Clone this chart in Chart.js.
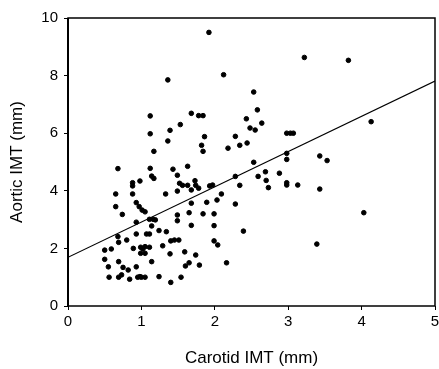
<!DOCTYPE html>
<html>
<head>
<meta charset="utf-8">
<script src="https://cdn.jsdelivr.net/npm/chart.js@4.4.1/dist/chart.umd.min.js"></script>
<style>
  html, body { margin: 0; padding: 0; background: #fff; }
  #box { width: 439px; height: 369px; }
</style>
</head>
<body>
<div id="box"><canvas id="imtChart"></canvas></div>
<script>
// 데이터
const carotid = [
  1.92, 3.22, 3.82, 2.12, 1.36, 2.53, 2.58, 1.68, 1.12, 1.78, 1.84, 2.43, 4.13, 2.64, 1.53, 2.48, 2.55, 1.39,
  2.98, 3.03, 3.07, 1.12, 1.86, 2.28, 1.36, 1.82, 2.34, 2.44, 2.18, 1.17, 1.84, 2.98, 3.43, 2.98, 3.53, 2.53,
  1.63, 0.68, 1.12, 1.43, 2.69, 2.88, 1.49, 1.14, 1.17, 2.28, 2.59, 2.70, 0.98, 1.73, 0.88, 1.52, 2.98, 0.88,
  1.56, 1.63, 1.74, 1.93, 1.97, 2.34, 2.98, 3.13, 2.73, 1.78, 3.43, 1.68, 1.49, 0.65, 0.88, 1.33, 2.09, 2.03,
  1.89, 0.93, 1.68, 2.28, 0.65, 0.97, 1.01, 1.05, 1.65, 4.03, 1.84, 1.99, 0.74, 1.49, 1.11, 1.16, 1.19, 1.49,
  0.93, 1.68, 1.99, 1.14, 1.24, 1.34, 2.39, 0.93, 1.07, 1.11, 0.68, 0.80, 1.45, 1.51, 1.40, 1.99, 0.69, 2.04,
  3.39, 1.29, 0.99, 1.05, 1.11, 0.89, 1.02, 0.59, 0.50, 1.59, 0.99, 1.05, 1.39, 1.74, 0.50, 0.69, 1.14, 1.65,
  2.16, 1.79, 1.60, 0.55, 0.75, 0.93, 0.82, 0.56, 0.69, 0.73, 0.84, 0.95, 0.98, 1.00, 1.05, 1.24, 1.54, 1.40
];
const aortic = [
  9.50, 8.63, 8.53, 8.03, 7.85, 7.43, 6.81, 6.69, 6.60, 6.61, 6.61, 6.50, 6.40, 6.35, 6.30, 6.18, 6.11, 6.10,
  6.00, 6.00, 6.00, 5.98, 5.88, 5.89, 5.73, 5.58, 5.58, 5.66, 5.48, 5.37, 5.37, 5.30, 5.21, 5.09, 5.05, 4.99,
  4.85, 4.77, 4.78, 4.75, 4.66, 4.61, 4.54, 4.51, 4.43, 4.50, 4.50, 4.36, 4.34, 4.35, 4.28, 4.26, 4.28, 4.17,
  4.19, 4.19, 4.19, 4.17, 4.20, 4.19, 4.20, 4.20, 4.11, 4.09, 4.06, 4.03, 3.99, 3.89, 3.89, 3.89, 3.89, 3.68,
  3.60, 3.59, 3.57, 3.54, 3.45, 3.45, 3.33, 3.27, 3.24, 3.24, 3.20, 3.20, 3.18, 3.16, 3.01, 3.01, 2.99, 2.96,
  2.91, 2.80, 2.79, 2.78, 2.62, 2.58, 2.60, 2.50, 2.50, 2.50, 2.41, 2.29, 2.29, 2.29, 2.26, 2.26, 2.21, 2.12,
  2.15, 2.09, 2.04, 2.06, 2.04, 2.00, 1.98, 1.98, 1.94, 1.88, 1.83, 1.83, 1.81, 1.77, 1.62, 1.54, 1.54, 1.50,
  1.50, 1.42, 1.39, 1.36, 1.34, 1.36, 1.25, 1.00, 1.00, 1.08, 0.93, 1.00, 1.02, 1.00, 1.00, 1.02, 1.00, 0.82
];
// 회귀선 양 끝
const fitX = [0, 5];
const fitY = [1.69, 7.81];

const xTicks = [0, 1, 2, 3, 4, 5];
const yTicks = [0, 2, 4, 6, 8, 10];

const points = carotid.map((x, i) => ({ x: x, y: aortic[i] }));
const fitLine = fitX.map((x, i) => ({ x: x, y: fitY[i] }));

const fontFam = '"Liberation Sans", Arial, sans-serif';

// 테두리 박스
const frame = {
  id: 'frame',
  afterDraw(chart) {
    const a = chart.chartArea;
    const c = chart.ctx;
    c.save();
    c.strokeStyle = '#000';
    c.lineWidth = 1.5;
    c.strokeRect(a.left, a.top, a.right - a.left, a.bottom - a.top);
    c.lineWidth = 2;
    c.beginPath();
    c.moveTo(a.left, a.top);
    c.lineTo(a.left, a.bottom);
    c.stroke();
    c.restore();
  }
};

const ctx = document.getElementById('imtChart').getContext('2d');
const chart = new Chart(ctx, {
  type: 'scatter',
  data: {
    datasets: [
      {
        label: 'IMT',
        data: points,
        backgroundColor: '#000',
        borderColor: '#000',
        pointRadius: 2.3,
        pointHoverRadius: 3
      },
      {
        label: 'fit',
        type: 'line',
        data: fitLine,
        borderColor: '#000',
        borderWidth: 1.2,
        pointRadius: 0,
        fill: false
      }
    ]
  },
  options: {
    responsive: true,
    maintainAspectRatio: false,
    animation: false,
    layout: { padding: { left: 0, right: 3, top: 18, bottom: 0 } },
    scales: {
      x: {
        type: 'linear',
        min: 0,
        max: 5,
        afterBuildTicks: (s) => { s.ticks = xTicks.map(v => ({ value: v })); },
        afterFit: (s) => { s.height = 63; s.paddingLeft = 0; s.paddingRight = 0; },
        border: { display: false },
        grid: { drawOnChartArea: false, color: '#000', tickLength: 4, lineWidth: 1 },
        ticks: {
          color: '#000',
          padding: 3,
          maxRotation: 0,
          font: { size: 15, family: fontFam }
        },
        title: {
          display: true,
          text: 'Carotid IMT (mm)',
          color: '#000',
          padding: { top: 0, bottom: 0 },
          font: { size: 17, family: fontFam, lineHeight: 1.2 }
        }
      },
      y: {
        type: 'linear',
        min: 0,
        max: 10,
        afterBuildTicks: (s) => { s.ticks = yTicks.map(v => ({ value: v })); },
        afterFit: (s) => { s.width = 68; s.paddingTop = 0; s.paddingBottom = 0; },
        border: { display: false },
        grid: { drawOnChartArea: false, color: '#000', tickLength: 4, lineWidth: 1 },
        ticks: {
          color: '#000',
          padding: 6,
          font: { size: 15, family: fontFam }
        },
        title: {
          display: true,
          text: 'Aortic IMT (mm)',
          color: '#000',
          padding: { top: 7, bottom: 0 },
          font: { size: 17, family: fontFam, lineHeight: 1.2 }
        }
      }
    },
    plugins: {
      legend: { display: false },
      tooltip: { enabled: false }
    }
  },
  plugins: [frame]
});
</script>
</body>
</html>
